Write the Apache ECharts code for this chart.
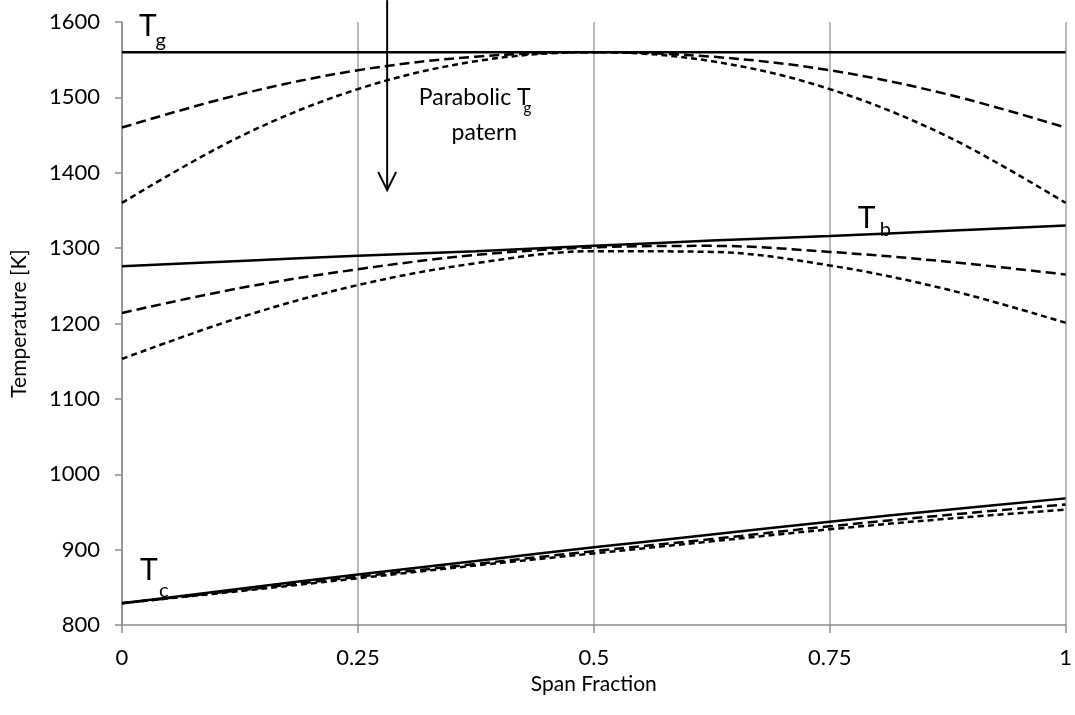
<!DOCTYPE html>
<html>
<head>
<meta charset="utf-8">
<script src="https://cdn.jsdelivr.net/npm/echarts@6/dist/echarts.min.js"></script>
<style>
html,body{margin:0;padding:0;background:#fff;}
#main{width:1075px;height:715px;}
</style>
</head>
<body>
<div id="main"></div>
<script>
// Span fraction positions where values were read
var spanX = [0, 0.125, 0.25, 0.375, 0.5, 0.625, 0.75, 0.875, 1];
// Gas temperature Tg
var tgUniform  = [1560, 1560, 1560, 1560, 1560, 1560, 1560, 1560, 1560];
var tgPar1     = [1460, 1504, 1536, 1554, 1560, 1554, 1536, 1504, 1460];
var tgPar2     = [1360, 1448, 1511, 1548, 1560, 1548, 1511, 1448, 1360];
// Blade temperature Tb
var tbUniform  = [1276, 1283, 1290, 1296, 1303, 1310, 1316, 1323, 1330];
var tbPar1     = [1214, 1247, 1272, 1291, 1301, 1303, 1295, 1282, 1265];
var tbPar2     = [1153, 1208, 1251, 1280, 1296, 1295, 1277, 1245, 1201];
// Coolant temperature Tc
var tcUniform  = [829, 848, 867, 885, 903, 920, 937, 953, 968];
var tcPar1     = [829, 846, 864, 881, 898, 914, 931, 946, 960];
var tcPar2     = [829, 845, 862, 879, 895, 911, 927, 941, 953];

var xTicks = [0, 0.25, 0.5, 0.75, 1];
var yMin = 800, yMax = 1600, yStep = 100;

// Arrow (data coords)
var arrowX = 0.281, arrowTop = 1629, arrowTip = 1377, arrowWing = 1401, arrowHalf = 0.0095;

var FONT = 'Lato';
var chart = echarts.init(document.getElementById('main'));

function pairs(ys){ return spanX.map(function(x,i){ return [x, ys[i]]; }); }
function mk(name, ys, type){
  return {
    name: name, type: 'line', data: pairs(ys), smooth: 0.35,
    showSymbol: false, symbol: 'none', silent: true, animation: false,
    lineStyle: { color: '#000', width: 2.5, type: type },
    emphasis: { disabled: true }
  };
}
var LONG = [10, 5], SHORT = [6, 4];

var option = {
  animation: false,
  grid: { left: 122, right: 6, top: 22, bottom: 90 },
  xAxis: {
    type: 'value', min: 0, max: 1, interval: 0.25,
    name: 'Span Fraction', nameLocation: 'middle', nameGap: 31,
    nameTextStyle: { fontFamily: FONT, fontSize: 21, color: '#000' },
    axisLine: { show: true, lineStyle: { color: '#8c8c8c', width: 1.5 } },
    axisTick: { show: true, inside: false, length: 8, lineStyle: { color: '#8c8c8c', width: 1.5 } },
    axisLabel: { fontFamily: FONT, fontSize: 22, color: '#000', margin: 22,
      formatter: function(v){ return String(v); } },
    splitLine: { show: true, lineStyle: { color: '#a0a0a0', width: 1.5 } }
  },
  yAxis: {
    type: 'value', min: yMin, max: yMax, interval: yStep,
    name: 'Temperature [K]', nameLocation: 'middle', nameGap: 92, nameRotate: 90,
    nameTextStyle: { fontFamily: FONT, fontSize: 21, color: '#000' },
    axisLine: { show: true, lineStyle: { color: '#8c8c8c', width: 1.5 } },
    axisTick: { show: true, inside: false, length: 7, lineStyle: { color: '#8c8c8c', width: 1.5 } },
    axisLabel: { fontFamily: FONT, fontSize: 22, color: '#000', margin: 22,
      formatter: function(v){ return String(v); } },
    splitLine: { show: false }
  },
  series: [
    mk('Tg', tgUniform, 'solid'),
    mk('Tg p1', tgPar1, LONG),
    mk('Tg p2', tgPar2, SHORT),
    mk('Tb', tbUniform, 'solid'),
    mk('Tb p1', tbPar1, LONG),
    mk('Tb p2', tbPar2, SHORT),
    mk('Tc', tcUniform, 'solid'),
    mk('Tc p1', tcPar1, LONG),
    mk('Tc p2', tcPar2, SHORT)
  ]
};
chart.setOption(option);

function px(x, y){ return chart.convertToPixel({ gridIndex: 0 }, [x, y]); }

// label definitions: [main text, x, y, subscript, sx, sy]
var labels = [
  ['T', 0.0275, 1594, 'g', 0.041, 1575],
  ['T', 0.789, 1340, 'b', 0.809, 1325],
  ['T', 0.0285, 873, 'c', 0.0444, 846]
];
var g = [];
labels.forEach(function(l){
  var p = px(l[1], l[2]), q = px(l[4], l[5]);
  g.push({ type: 'text', x: p[0], y: p[1], silent: true,
    style: { text: l[0], fontFamily: FONT, fontSize: 30, fill: '#000', align: 'center', verticalAlign: 'middle' } });
  g.push({ type: 'text', x: q[0], y: q[1], silent: true,
    style: { text: l[3], fontFamily: FONT, fontSize: 20, fill: '#000', align: 'center', verticalAlign: 'middle' } });
});

// Arrow
var a0 = px(arrowX, arrowTop), a1 = px(arrowX, arrowTip);
var wl = px(arrowX - arrowHalf, arrowWing), wr = px(arrowX + arrowHalf, arrowWing);
g.push({ type: 'line', silent: true, shape: { x1: a0[0], y1: a0[1], x2: a1[0], y2: a1[1] },
  style: { stroke: '#000', lineWidth: 2 } });
g.push({ type: 'polyline', silent: true, shape: { points: [wl, a1, wr] },
  style: { stroke: '#000', lineWidth: 2, fill: null } });

// "Parabolic Tg patern" annotation
var t1 = px(0.3145, 1600 - (98 - 22) / 0.754);
g.push({ type: 'text', x: t1[0], y: t1[1], silent: true,
  style: { text: 'Parabolic T', fontFamily: FONT, fontSize: 23, fill: '#000', align: 'left', verticalAlign: 'middle' } });
var t1s = px(0.4295, 1600 - (108 - 22) / 0.754);
g.push({ type: 'text', x: t1s[0], y: t1s[1], silent: true,
  style: { text: 'g', fontFamily: FONT, fontSize: 15, fill: '#000', align: 'center', verticalAlign: 'middle' } });
var t2 = px(0.384, 1600 - (133 - 22) / 0.754);
g.push({ type: 'text', x: t2[0], y: t2[1], silent: true,
  style: { text: 'patern', fontFamily: FONT, fontSize: 23, fill: '#000', align: 'center', verticalAlign: 'middle' } });

chart.setOption({ graphic: g });
</script>
</body>
</html>
